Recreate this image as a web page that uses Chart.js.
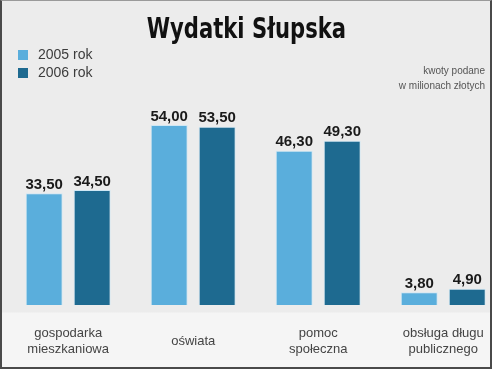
<!DOCTYPE html>
<html>
<head>
<meta charset="utf-8">
<script src="https://cdn.jsdelivr.net/npm/chart.js@4.4.0/dist/chart.umd.min.js"></script>
<style>
  html, body { margin: 0; padding: 0; overflow: hidden; }
  body { width: 492px; height: 369px; position: relative; font-family: "Liberation Sans", Arial, sans-serif; }
  #bg { position: absolute; left: 0; top: 0; width: 492px; height: 369px;
        background: linear-gradient(to bottom, #ececec 0px, #ececec 312px, #f5f5f5 313px, #f5f5f5 369px); }
  #frame { position: absolute; left: 0; top: 0; width: 488px; height: 366px; pointer-events: none;
           border-left: 2px solid #4a4a4a; border-right: 2px solid #4a4a4a;
           border-bottom: 2px solid #4a4a4a; border-top: 1px solid #9a9a9a; z-index: 5; }
  #wrap { position: absolute; left: 0; top: 0; width: 511px; height: 406px; }
  #title { position: absolute; left: 0; width: 492px; top: 11px; text-align: center;
           font-family: "DejaVu Sans Condensed", "Liberation Sans Narrow", sans-serif;
           font-weight: bold; font-size: 29px; color: #111;
           transform: scaleX(0.81); transform-origin: 248px 0; }
  #legend { position: absolute; left: 18px; top: 46px; font-size: 14px; color: #3c3c3c; }
  .item { height: 17.5px; line-height: 17.5px; white-space: nowrap; }
  .box { display: inline-block; width: 10px; height: 10px; margin-right: 10px; vertical-align: -1px; }
  #note { position: absolute; right: 7px; top: 63px; text-align: right; font-size: 10px;
          line-height: 15px; color: #555; }
</style>
</head>
<body>
<div id="bg"></div>
<div id="wrap"><canvas id="chart"></canvas></div>
<div id="title">Wydatki Słupska</div>
<div id="legend"></div>
<div id="note">kwoty podane<br>w milionach złotych</div>
<div id="frame"></div>
<script>
// dane: wydatki w mln zł
const kategorie = [
    ['gospodarka', 'mieszkaniowa'],
    'oświata',
    ['pomoc', 'społeczna'],
    ['obsługa długu', 'publicznego']
];
const rok2005 = [33.5, 54.0, 46.3, 3.8];
const rok2006 = [34.5, 53.5, 49.3, 4.9];
const serie = ['2005 rok', '2006 rok'];
const kolory = ['#5aaedc', '#1e6a90'];

// legenda w HTML
document.getElementById('legend').innerHTML = serie.map((s, i) =>
    `<div class="item"><span class="box" style="background:${kolory[i]}"></span>${s}</div>`
).join('');

// etykiety wartości nad słupkami
const wartosciPlugin = {
    id: 'wartosci',
    afterDatasetsDraw(chart) {
        const ctx = chart.ctx;
        ctx.save();
        ctx.font = 'bold 15px "Liberation Sans", Arial, sans-serif';
        ctx.fillStyle = '#1a1a1a';
        ctx.textAlign = 'center';
        ctx.textBaseline = 'bottom';
        chart.data.datasets.forEach((ds, i) => {
            chart.getDatasetMeta(i).data.forEach((bar, j) => {
                const txt = ds.data[j].toFixed(2).replace('.', ',');
                ctx.fillText(txt, bar.x, bar.y - 1);
            });
        });
        ctx.restore();
    }
};

new Chart(document.getElementById('chart'), {
    type: 'bar',
    data: {
        labels: kategorie,
        datasets: [
            { label: serie[0], data: rok2005, backgroundColor: kolory[0],
              borderColor: '#cfe7f4', borderWidth: 1, borderSkipped: 'bottom' },
            { label: serie[1], data: rok2006, backgroundColor: kolory[1],
              borderColor: '#cfe7f4', borderWidth: 1, borderSkipped: 'bottom' }
        ]
    },
    options: {
        responsive: true,
        maintainAspectRatio: false,
        animation: false,
        categoryPercentage: 0.768,
        barPercentage: 0.77,
        layout: { padding: { top: 100, bottom: 13, left: 0, right: 0 } },
        plugins: {
            legend: { display: false },
            tooltip: { enabled: false }
        },
        scales: {
            y: { display: false, min: 0, max: 61.5 },
            x: {
                grid: { display: false, drawTicks: false },
                border: { display: false },
                ticks: {
                    color: '#444',
                    font: { family: '"Liberation Sans", Arial, sans-serif', size: 13, lineHeight: 1.23 },
                    padding: 28,
                    maxRotation: 0,
                    autoSkip: false,
                    crossAlign: 'center'
                }
            }
        }
    },
    plugins: [wartosciPlugin]
});
</script>
</body>
</html>
